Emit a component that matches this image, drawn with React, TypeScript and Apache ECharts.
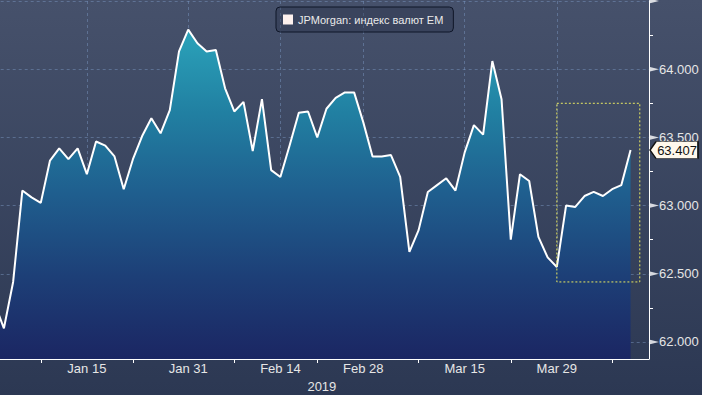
import React, { useEffect, useRef } from "react";
import * as echarts from "echarts";

const seriesName = "JPMorgan: индекс валют EM";

const categories = [
  "Dec 31",
  "Jan 2", "Jan 3", "Jan 4", "Jan 7", "Jan 8", "Jan 9", "Jan 10", "Jan 11", "Jan 14", "Jan 15",
  "Jan 16", "Jan 17", "Jan 18", "Jan 22", "Jan 23", "Jan 24", "Jan 25", "Jan 28", "Jan 29", "Jan 30", "Jan 31",
  "Feb 1", "Feb 4", "Feb 5", "Feb 6", "Feb 7", "Feb 8", "Feb 11", "Feb 12", "Feb 13", "Feb 14",
  "Feb 15", "Feb 19", "Feb 20", "Feb 21", "Feb 22", "Feb 25", "Feb 26", "Feb 27", "Feb 28",
  "Mar 1", "Mar 4", "Mar 5", "Mar 6", "Mar 7", "Mar 8", "Mar 11", "Mar 12", "Mar 13", "Mar 14", "Mar 15",
  "Mar 18", "Mar 19", "Mar 20", "Mar 21", "Mar 22", "Mar 25", "Mar 26", "Mar 27", "Mar 28", "Mar 29",
  "Apr 1", "Apr 2", "Apr 3", "Apr 4", "Apr 5", "Apr 8", "Apr 9", "Apr 10", "Apr 11", "Apr 12",
];

const values = [
  62.28,
  62.1, 62.44, 63.11, 63.06, 63.02, 63.33, 63.42, 63.34, 63.42, 63.23,
  63.47, 63.44, 63.36, 63.12, 63.34, 63.51, 63.64, 63.53, 63.7, 64.13, 64.29,
  64.19, 64.13, 64.14, 63.86, 63.69, 63.76, 63.4, 63.78, 63.26, 63.21,
  63.44, 63.68, 63.69, 63.5, 63.71, 63.79, 63.83, 63.83, 63.61,
  63.36, 63.36, 63.37, 63.21, 62.66, 62.82, 63.1, 63.15, 63.2, 63.11, 63.39,
  63.59, 63.52, 64.06, 63.78, 62.75, 63.23, 63.18, 62.77, 62.62, 62.55,
  63.0, 62.99, 63.07, 63.1, 63.07, 63.12, 63.15, 63.407,
];

const labelDates = ["Jan 15", "Jan 31", "Feb 14", "Feb 28", "Mar 15", "Mar 29"];
const tickDates = ["Jan 8", "Jan 23", "Feb 7", "Feb 21", "Mar 8", "Mar 22", "Apr 8"];
const yTickValues = [62, 62.5, 63, 63.5, 64, 64.5];
const highlightBox = { from: "Mar 29", to: "Apr 11", top: 63.75, bottom: 62.44 };
const xAxisName = "2019";

const FONT = "'Liberation Sans', Arial, sans-serif";
const TEXT = "#e6e6e6";
const GRID_LINE = "rgba(120,148,190,0.5)";

export default function App() {
  const ref = useRef<HTMLDivElement>(null);

  useEffect(() => {
    if (!ref.current) return;
    const chart = echarts.init(ref.current, null, { renderer: "svg" });
    const axisEnd = categories[categories.length - 1];
    const lastValue = values[values.length - 1];

    chart.setOption({
      animation: false,
      backgroundColor: "transparent",
      textStyle: { fontFamily: FONT },
      grid: { left: -5.3, right: 53, top: 1, bottom: 36, containLabel: false, outerBoundsMode: "none" },
      legend: {
        left: 276,
        top: 7,
        data: [{ name: seriesName, itemStyle: { color: "#fdf1ee" } }],
        icon: "rect",
        itemWidth: 10,
        itemHeight: 10,
        padding: [7, 10, 7, 7],
        backgroundColor: "rgba(36,46,70,0.35)",
        borderColor: "#0f1628",
        borderWidth: 1,
        borderRadius: 4,
        selectedMode: false,
        itemStyle: { borderWidth: 0 },
        textStyle: { color: "#eaeaea", fontSize: 11, fontFamily: FONT },
      },
      xAxis: {
        type: "category",
        data: categories,
        boundaryGap: false,
        name: xAxisName,
        nameLocation: "middle",
        nameGap: 17,
        nameTextStyle: { color: TEXT, fontSize: 13, fontFamily: FONT },
        axisLine: { show: true, lineStyle: { color: "#ffffff", width: 1 } },
        axisTick: {
          show: true,
          length: 4,
          interval: (_i: number, v: string) => tickDates.includes(v),
          lineStyle: { color: "#ffffff" },
        },
        axisLabel: {
          interval: (_i: number, v: string) => labelDates.includes(v),
          color: TEXT,
          fontSize: 13,
          margin: 3,
          fontFamily: FONT,
        },
        splitLine: {
          show: true,
          interval: (_i: number, v: string) => labelDates.includes(v),
          lineStyle: { color: GRID_LINE, type: [3, 3], width: 1 },
        },
      },
      yAxis: {
        type: "value",
        position: "right",
        min: 61.875,
        max: 64.5,
        splitNumber: 5,
        axisLine: { show: true, lineStyle: { color: "#ffffff", width: 1 } },
        axisTick: { show: false },
        minorTick: { show: true, splitNumber: 2, length: 4, lineStyle: { color: "#ffffff" } },
        axisLabel: {
          showMinLabel: false,
          showMaxLabel: false,
          color: TEXT,
          fontSize: 13,
          margin: 10,
          fontFamily: FONT,
          formatter: (v: number) => v.toFixed(3),
        },
        splitLine: { show: true, lineStyle: { color: GRID_LINE, type: [3, 3], width: 1 } },
      },
      series: [
        {
          name: seriesName,
          type: "line",
          data: values,
          symbol: "none",
          itemStyle: { color: "#fdf1ee" },
          lineStyle: { color: "#ffffff", width: 2 },
          areaStyle: {
            opacity: 1,
            color: new echarts.graphic.LinearGradient(0, 0, 0, 1, [
              { offset: 0, color: "#2ba3ba" },
              { offset: 0.25, color: "#2180a2" },
              { offset: 0.5, color: "#1f5e8e" },
              { offset: 0.75, color: "#1d3f77" },
              { offset: 1, color: "#1b2663" },
            ]),
          },
          markArea: {
            silent: true,
            z: 4,
            itemStyle: {
              color: "rgba(0,0,0,0)",
              borderColor: "#e8e860",
              borderWidth: 1,
              borderType: [2, 2],
            },
            data: [
              [
                { coord: [highlightBox.from, highlightBox.top] },
                { coord: [highlightBox.to, highlightBox.bottom] },
              ],
            ],
          },
          markPoint: {
            silent: true,
            z: 6,
            symbol: "path://M0,8L6,0L48,0L48,16L6,16Z",
            symbolSize: [48, 17],
            symbolOffset: [25, 0],
            itemStyle: { color: "#fff8ec", borderColor: "#111111", borderWidth: 1 },
            label: {
              show: true,
              position: "inside",
              color: "#111111",
              fontSize: 13,
              fontFamily: FONT,
              offset: [3, 0],
              formatter: (p: any) => Number(p.value).toFixed(3),
            },
            data: [{ coord: [axisEnd, lastValue], value: lastValue }],
          },
        },
        {
          name: "yticks",
          type: "scatter",
          data: yTickValues.map((v) => [axisEnd, v]),
          symbol: "path://M0,0L10,2.5L0,5Z",
          symbolSize: [10, 5],
          symbolOffset: [5, 0],
          itemStyle: { color: "#ffffff" },
          silent: true,
          clip: false,
          z: 5,
          legendHoverLink: false,
        },
      ],
    });

    return () => chart.dispose();
  }, []);

  return (
    <div
      ref={ref}
      style={{
        position: "absolute",
        left: 0,
        top: 0,
        width: 702,
        height: 395,
        background: "linear-gradient(to bottom, #46516b 0%, #2c3853 100%)",
      }}
    />
  );
}
